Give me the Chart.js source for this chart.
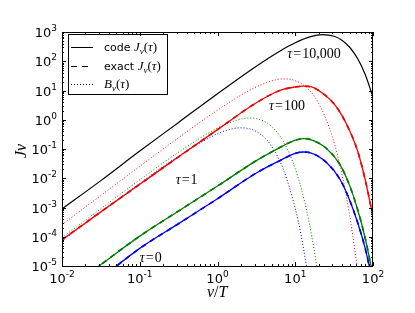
<!DOCTYPE html>
<html>
<head>
<meta charset="utf-8">
<script src="https://cdn.jsdelivr.net/npm/chart.js@4"></script>
<style>
  html, body { margin: 0; padding: 0; background: #fff; }
  #wrap { width: 415px; height: 313px; }
</style>
</head>
<body>
<div id="wrap"><canvas id="chart" width="415" height="313"></canvas></div>
<script>
// nu/T grids and J / B values
const nuBlack = [0.01, 0.0316, 0.1, 0.316, 1, 3.16, 6.31, 10, 15.8, 22.4, 31.6, 39.8, 50.1, 63.1, 79.4, 100];
const jBlack  = [8.9e-4, 8.3e-3, 0.085, 0.81, 7.8, 68, 221, 428, 692, 811, 715, 526, 301, 126, 35, 5.9];

const nuRed = [0.01, 0.0316, 0.1, 0.316, 1, 3.16, 6.31, 10, 12.6, 15.8, 22.4, 31.6, 39.8, 50.1, 63.1, 79.4, 100];
const jRed  = [7.9e-5, 7.1e-4, 6.2e-3, 0.054, 0.46, 3.8, 10, 13.2, 14.1, 13.5, 8.1, 3.5, 1.41, 0.42, 0.089, 8.9e-3, 4.8e-4];

const nuGreen = [0.01, 0.0316, 0.1, 0.316, 1, 3.16, 6.31, 10, 12.6, 15.8, 25.1, 37.9, 50.1, 63.1, 79.4, 100];
const jGreen  = [1.2e-6, 1.12e-5, 1.05e-4, 7.6e-4, 5.4e-3, 0.040, 0.112, 0.20, 0.226, 0.209, 0.105, 0.028, 5.6e-3, 8.9e-4, 8.9e-5, 4.7e-6];

const nuBlue = [0.01, 0.0316, 0.1, 0.316, 1, 3.16, 6.31, 10, 12.6, 15.8, 25.1, 37.9, 50.1, 63.1, 79.4, 100];
const jBlue  = [3.8e-7, 3.8e-6, 4.0e-5, 2.8e-4, 2.0e-3, 0.0151, 0.040, 0.071, 0.079, 0.074, 0.035, 8.9e-3, 1.78e-3, 3.2e-4, 4.0e-5, 2.5e-6];

const nuRedB = [0.01, 0.1, 0.3, 1, 2, 3, 5, 7, 10, 15, 20, 30, 40, 50, 60, 65];
const bRed   = [2.6e-4, 0.0255, 0.221, 2.13, 6.9, 12.4, 21.4, 24.9, 21.8, 10.6, 3.65, 0.263, 0.0133, 5.6e-4, 2.05e-5, 3.8e-6];

const nuGreenB = [0.01, 0.1, 0.3, 1, 2, 2.6, 3, 4, 5, 7, 10, 13, 15, 18, 20];
const bGreen   = [9.3e-5, 8.8e-3, 0.0709, 0.518, 1.054, 1.144, 1.116, 0.879, 0.581, 0.185, 0.0215, 1.86e-3, 3.34e-4, 2.3e-5, 3.7e-6];

const nuBlueB = [0.01, 0.1, 0.3, 1, 1.5, 2, 2.5, 3, 4, 5, 7, 10, 12, 15];
const bBlue   = [7.2e-5, 6.7e-3, 0.0522, 0.332, 0.48, 0.530, 0.501, 0.425, 0.248, 0.1205, 0.0206, 9.3e-4, 1.0e-4, 3.0e-6];

const xTicks = [-2, -1, 0, 1, 2];
const yTicks = [-5, -4, -3, -2, -1, 0, 1, 2, 3];

// label anchors (left end, baseline) in data units
const tauLabels = [
  { text: "10,000", x: 7.9, y: 126 },
  { text: "100", x: 4.6, y: 2.1 },
  { text: "1", x: 0.29, y: 6.2e-3 },
  { text: "0", x: 0.1, y: 1.35e-5 }
];

function pts(xs, ys) {
  return xs.map((x, i) => ({ x: x, y: ys[i] }));
}

function line(data, color, dash, width) {
  return {
    data: data,
    borderColor: color,
    borderWidth: width,
    borderDash: dash,
    pointRadius: 0,
    fill: false,
    cubicInterpolationMode: "monotone"
  };
}

const serif = "'Liberation Serif', 'DejaVu Serif', serif";
const sans = "'DejaVu Sans', sans-serif";

function drawPow(ctx, exp, x, y, align) {
  ctx.font = "13px " + sans;
  let w1 = ctx.measureText("10").width;
  ctx.font = "9px " + sans;
  let w2 = ctx.measureText(exp).width;
  let left = align === "right" ? x - w1 - w2 : x - (w1 + w2) / 2;
  ctx.textAlign = "left";
  ctx.font = "13px " + sans;
  ctx.fillText("10", left, y);
  ctx.font = "9px " + sans;
  ctx.fillText(exp, left + w1, y - 6);
}

// draws pieces [text, font, dy, gap] one after another
function drawPieces(ctx, x, y, pieces) {
  ctx.textAlign = "left";
  pieces.forEach(p => {
    ctx.font = p[1];
    ctx.fillText(p[0], x, y + (p[2] || 0));
    x += ctx.measureText(p[0]).width + (p[3] || 0);
  });
}

const decorations = {
  id: "decorations",
  afterDraw(chart) {
    const ctx = chart.ctx;
    const a = chart.chartArea;
    const xs = chart.scales.x, ys = chart.scales.y;
    ctx.save();
    ctx.fillStyle = "#000";
    ctx.strokeStyle = "#000";
    ctx.lineWidth = 1;
    ctx.textBaseline = "alphabetic";

    // frame
    ctx.strokeRect(Math.round(a.left) + 0.5, Math.round(a.top) + 0.5,
      Math.round(a.right - a.left) - 1, Math.round(a.bottom - a.top));

    // ticks on all four sides
    ctx.beginPath();
    for (let d = -2; d <= 2; d++) {
      for (let m = 1; m <= 9; m++) {
        if (d === 2 && m > 1) break;
        let px = Math.round(xs.getPixelForValue(m * Math.pow(10, d))) + 0.5;
        let len = m === 1 ? 4 : 2;
        ctx.moveTo(px, a.bottom); ctx.lineTo(px, a.bottom - len);
        ctx.moveTo(px, a.top); ctx.lineTo(px, a.top + len);
      }
    }
    for (let d = -5; d <= 3; d++) {
      for (let m = 1; m <= 9; m++) {
        if (d === 3 && m > 1) break;
        let py = Math.round(ys.getPixelForValue(m * Math.pow(10, d))) + 0.5;
        let len = m === 1 ? 4 : 2;
        ctx.moveTo(a.left, py); ctx.lineTo(a.left + len, py);
        ctx.moveTo(a.right, py); ctx.lineTo(a.right - len, py);
      }
    }
    ctx.stroke();

    // tick labels
    xTicks.forEach(e => {
      drawPow(ctx, String(e), xs.getPixelForValue(Math.pow(10, e)), a.bottom + 17, "center");
    });
    yTicks.forEach(e => {
      drawPow(ctx, String(e), a.left - 5, ys.getPixelForValue(Math.pow(10, e)) + 5, "right");
    });

    // axis titles
    drawPieces(ctx, 207, 297, [["ν", "italic 16px " + serif], ["/", "16px " + serif], ["T", "italic 16px " + serif]]);
    ctx.save();
    ctx.translate(26, 158);
    ctx.rotate(-Math.PI / 2);
    drawPieces(ctx, 0, 0, [["J", "italic 16px " + serif], ["ν", "italic 16px " + serif]]);
    ctx.restore();

    // tau labels
    tauLabels.forEach(t => {
      let px = xs.getPixelForValue(t.x), py = ys.getPixelForValue(t.y);
      drawPieces(ctx, px, py, [["τ", "italic 14px " + serif, 0, 1], ["=", "14px " + serif, 0, 1], [t.text, "14px " + serif]]);
    });

    // legend
    let lx = 68, ly = 34;
    ctx.strokeRect(lx + 0.5, ly + 0.5, 99, 60);
    const rows = [[[], "code "], [[6, 5], "exact "], [[1, 2], ""]];
    rows.forEach((r, i) => {
      let y = ly + 13 + i * 18.5;
      ctx.setLineDash(r[0]);
      ctx.beginPath();
      ctx.moveTo(lx + 3, Math.round(y) + 0.5);
      ctx.lineTo(lx + 25, Math.round(y) + 0.5);
      ctx.stroke();
      ctx.setLineDash([]);
      let pieces = [];
      if (r[1]) pieces.push([r[1], "11px " + sans]);
      pieces.push([i === 2 ? "B" : "J", "italic 13px " + serif]);
      pieces.push(["ν", "italic 9px " + serif, 3]);
      pieces.push(["(", "13px " + serif]);
      pieces.push(["τ", "italic 13px " + serif]);
      pieces.push([")", "13px " + serif]);
      drawPieces(ctx, lx + 36, y + 4, pieces);
    });
    ctx.restore();
  }
};

new Chart(document.getElementById("chart"), {
  type: "line",
  data: {
    datasets: [
      line(pts(nuRed, jRed), "#ee0000", [5, 5], 1.7),
      line(pts(nuGreen, jGreen), "#007800", [5, 5], 1.7),
      line(pts(nuBlue, jBlue), "#0000ee", [5, 5], 1.7),
      line(pts(nuBlack, jBlack), "#000000", [], 1.2),
      line(pts(nuRed, jRed), "#ff0000", [], 1.3),
      line(pts(nuGreen, jGreen), "#008000", [], 1.3),
      line(pts(nuBlue, jBlue), "#0000ff", [], 1.3),
      line(pts(nuRedB, bRed), "#ff0000", [1, 2], 1),
      line(pts(nuGreenB, bGreen), "#008000", [1, 2], 1),
      line(pts(nuBlueB, bBlue), "#0000ff", [1, 2], 1)
    ]
  },
  options: {
    responsive: false,
    animation: false,
    devicePixelRatio: 1,
    layout: { padding: { left: 62, right: 42, top: 32, bottom: 47 } },
    plugins: { legend: { display: false }, tooltip: { enabled: false } },
    scales: {
      x: { type: "logarithmic", min: 0.01, max: 100, display: false },
      y: { type: "logarithmic", min: 1e-5, max: 1000, display: false }
    }
  },
  plugins: [decorations]
});
</script>
</body>
</html>
